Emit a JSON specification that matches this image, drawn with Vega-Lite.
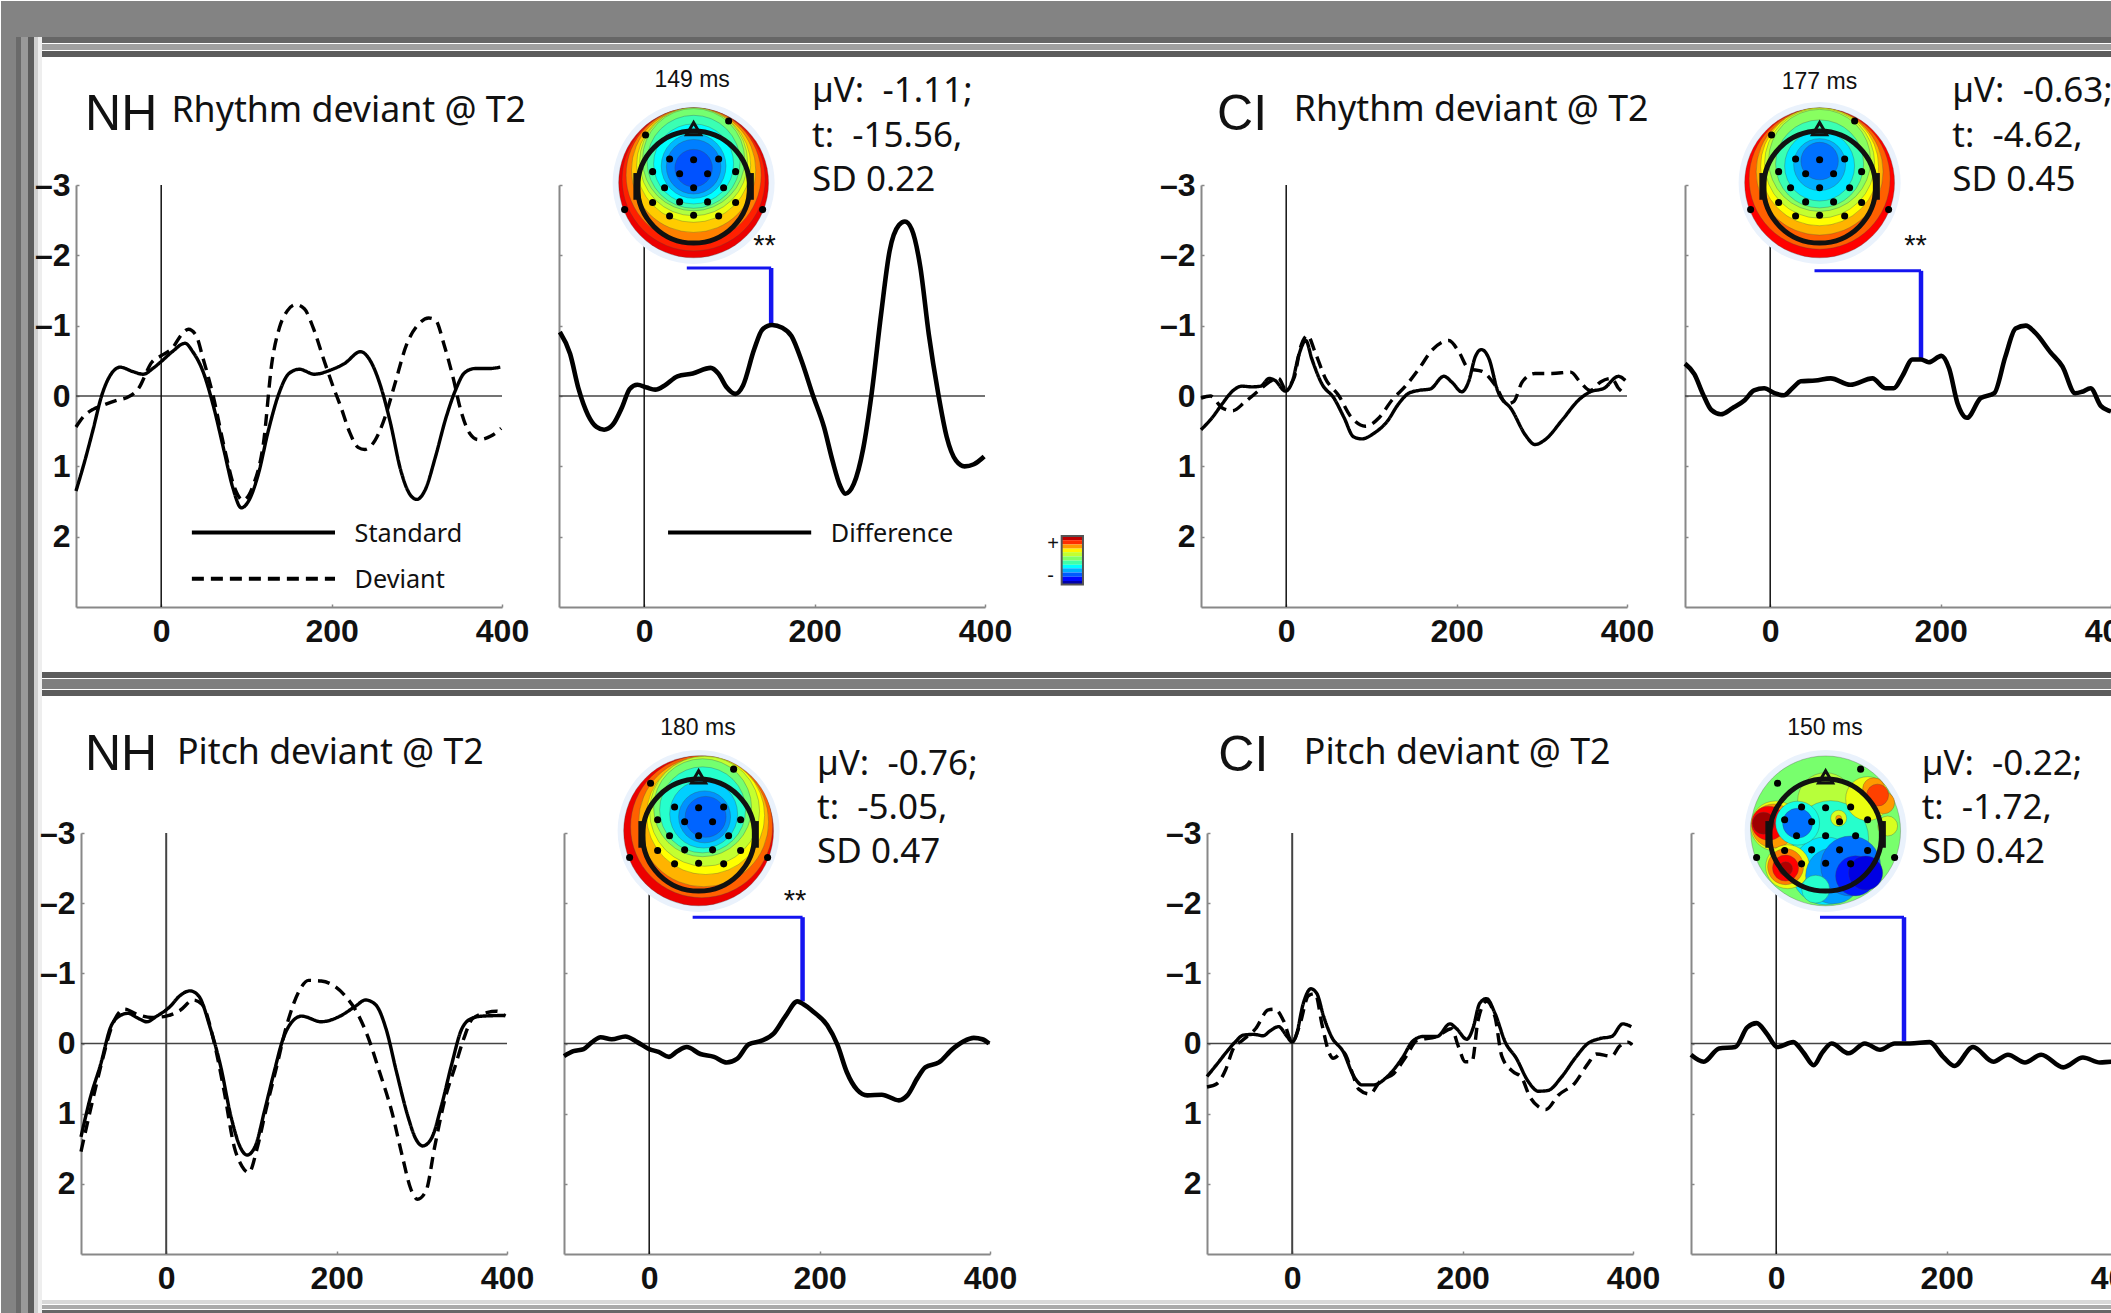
{"$schema":"https://vega.github.io/schema/vega-lite/v6.json","padding":0,"background":"#ffffff","spacing":0,"bounds":"flush",
"config":{"view":{"stroke":null},"concat":{"spacing":0},"axisX":{"labelPadding":12},"axisY":{"labelPadding":9},"axis":{"grid":false,"domainColor":"#888888","domainWidth":2,"tickColor":"#888888","tickWidth":1.5,"tickSize":-3,"labelFont":"Liberation Sans","labelFontSize":32,"labelFontWeight":"bold","labelColor":"#111111","labelOverlap":false,"labelBound":false,"labelFlush":false}},
"datasets":{
"one":[{"a":1}],
"hz":[{"t":-100,"t2":400,"v":0}],
"vt":[{"t":0,"v":-3,"v2":3}],
"halo":[{"t":58,"v":-3.03}],
"ring":[{"t":58,"v":-2.97}],
"nose":[{"t":58,"v":-3.8}],
"ears":[{"t":-8.6,"v":-3.17,"v2":-2.79},{"t":124.6,"v":-3.17,"v2":-2.79}],
"elec":[{"t":29.8,"v":-3.37},{"t":58,"v":-3.36},{"t":87.4,"v":-3.37},{"t":41.6,"v":-3.16},{"t":74.4,"v":-3.16},{"t":9.9,"v":-3.19},{"t":107.3,"v":-3.19},{"t":23.9,"v":-2.96},{"t":58,"v":-2.96},{"t":93.2,"v":-2.96},{"t":9.9,"v":-2.75},{"t":41.6,"v":-2.76},{"t":74.4,"v":-2.76},{"t":107.3,"v":-2.75},{"t":29.8,"v":-2.56},{"t":58,"v":-2.57},{"t":87.4,"v":-2.56},{"t":1.6,"v":-3.71},{"t":99.1,"v":-3.91},{"t":-23,"v":-2.65},{"t":139,"v":-2.65}],
"t1":[{"t":58,"v":-3.03,"level":0.88,"reach":88},{"t":58,"v":-3.08,"level":0.8,"reach":84},{"t":58,"v":-3.14,"level":0.65,"reach":79.3},{"t":58,"v":-3.21,"level":0.5,"reach":73},{"t":58,"v":-3.28,"level":0.35,"reach":67},{"t":58,"v":-3.33,"level":0.2,"reach":63.4},{"t":58,"v":-3.36,"level":0.05,"reach":60},{"t":58,"v":-3.33,"level":-0.1,"reach":54.6},{"t":58,"v":-3.3,"level":-0.25,"reach":47},{"t":58,"v":-3.27,"level":-0.4,"reach":38},{"t":58,"v":-3.26,"level":-0.52,"reach":32},{"t":58,"v":-3.24,"level":-0.62,"reach":22}],
"t2":[{"t":58,"v":-3.03,"level":0.85,"reach":88},{"t":58,"v":-3.09,"level":0.7,"reach":82.8},{"t":58,"v":-3.19,"level":0.55,"reach":74.5},{"t":58,"v":-3.26,"level":0.4,"reach":69.3},{"t":58,"v":-3.31,"level":0.25,"reach":64.6},{"t":58,"v":-3.35,"level":0.1,"reach":59.9},{"t":58,"v":-3.3,"level":-0.1,"reach":51.7},{"t":58,"v":-3.27,"level":-0.3,"reach":41.1},{"t":58,"v":-3.29,"level":-0.42,"reach":30.5},{"t":58,"v":-3.34,"level":-0.55,"reach":22}],
"t3":[{"t":58,"v":-3.03,"level":0.88,"reach":88},{"t":61.5,"v":-3.09,"level":0.7,"reach":83.4},{"t":63.9,"v":-3.16,"level":0.55,"reach":76.3},{"t":66.2,"v":-3.25,"level":0.4,"reach":69.3},{"t":65,"v":-3.31,"level":0.25,"reach":64.6},{"t":62.7,"v":-3.36,"level":0.05,"reach":57.5},{"t":62.7,"v":-3.33,"level":-0.15,"reach":50.5},{"t":63.9,"v":-3.27,"level":-0.35,"reach":39.9},{"t":65,"v":-3.23,"level":-0.48,"reach":30.5},{"t":66.2,"v":-3.23,"level":-0.58,"reach":24}],
"t4":[{"t":58,"v":-3.03,"level":0.06,"reach":88},{"t":58,"v":-3.46,"level":0.22,"reach":32.9},{"t":63.9,"v":-2.92,"level":-0.15,"reach":44.6},{"t":58,"v":-2.46,"level":-0.3,"reach":39.9},{"t":107.3,"v":-3.49,"level":0.35,"reach":25.8},{"t":114.4,"v":-3.63,"level":0.6,"reach":12.9},{"t":126.1,"v":-3.43,"level":0.6,"reach":12.9},{"t":119,"v":-3.54,"level":0.75,"reach":12.9},{"t":130.8,"v":-3.1,"level":0.3,"reach":11.7},{"t":-0.7,"v":-3.1,"level":0.35,"reach":29.4},{"t":-3,"v":-3.1,"level":0.6,"reach":25.8},{"t":-8.9,"v":-3.14,"level":0.85,"reach":20},{"t":-14.8,"v":-3.14,"level":1,"reach":12.9},{"t":13.4,"v":-2.52,"level":0.35,"reach":25.8},{"t":11,"v":-2.52,"level":0.65,"reach":21.1},{"t":11,"v":-2.5,"level":0.85,"reach":15.3},{"t":11,"v":-2.49,"level":0.97,"reach":8.2},{"t":67.4,"v":-2.39,"level":-0.45,"reach":32.9},{"t":87.4,"v":-2.53,"level":-0.55,"reach":35.2},{"t":93.2,"v":-2.39,"level":-0.75,"reach":23.5},{"t":105,"v":-2.43,"level":-0.85,"reach":20},{"t":46.3,"v":-2.2,"level":-0.15,"reach":16.4},{"t":25.1,"v":-3.14,"level":-0.2,"reach":25.8},{"t":25.1,"v":-3.14,"level":-0.55,"reach":17.6},{"t":73.3,"v":-3.21,"level":0.3,"reach":9.4},{"t":73.3,"v":-3.21,"level":0.6,"reach":3.5}],
"bar":[{"t":490,"t2":515,"v":1.99,"v2":2.05,"level":0.95},{"t":490,"t2":515,"v":2.05,"v2":2.11,"level":0.78},{"t":490,"t2":515,"v":2.11,"v2":2.17,"level":0.6},{"t":490,"t2":515,"v":2.17,"v2":2.22,"level":0.42},{"t":490,"t2":515,"v":2.22,"v2":2.28,"level":0.25},{"t":490,"t2":515,"v":2.28,"v2":2.34,"level":0.08},{"t":490,"t2":515,"v":2.34,"v2":2.4,"level":-0.08},{"t":490,"t2":515,"v":2.4,"v2":2.45,"level":-0.25},{"t":490,"t2":515,"v":2.45,"v2":2.51,"level":-0.42},{"t":490,"t2":515,"v":2.51,"v2":2.57,"level":-0.6},{"t":490,"t2":515,"v":2.57,"v2":2.63,"level":-0.78},{"t":490,"t2":515,"v":2.63,"v2":2.68,"level":-0.95}],
"barbox":[{"t":490,"t2":515,"v":1.99,"v2":2.68}],
"keys":[{"p":"P1","s":"Standard","t":36,"t2":204,"v":1.94},{"p":"P1","s":"Deviant","t":36,"t2":204,"v":2.6},{"p":"P2","s":"Standard","t":28,"t2":196,"v":1.94}],
"brackets":[{"p":"P2","t":50,"t2":149,"v":-1.82,"v2":-1.03},{"p":"P4","t":52,"t2":177,"v":-1.78,"v2":-0.51},{"p":"P6","t":51,"t2":180,"v":-1.8,"v2":-0.6},{"p":"P8","t":51.4,"t2":150,"v":-1.8,"v2":-0.03}],
"labels":[
{"p":"P1","kind":"big","font":"h","t":-89.4,"v":-3.78,"text":"NH"},
{"p":"P1","kind":"title","font":"n","t":12,"v":-3.9,"text":"Rhythm deviant @ T2"},
{"p":"P1","kind":"key","font":"n","t":227,"v":2.08,"text":"Standard"},
{"p":"P1","kind":"key","font":"n","t":227,"v":2.73,"text":"Deviant"},
{"p":"P2","kind":"ms","font":"h","t":12,"v":-4.39,"text":"149 ms"},
{"p":"P2","kind":"stat","font":"n","t":197,"v":-4.18,"text":"µV:\u00a0\u00a0-1.11;"},
{"p":"P2","kind":"stat","font":"n","t":197,"v":-3.54,"text":"t:\u00a0\u00a0-15.56,"},
{"p":"P2","kind":"stat","font":"n","t":197,"v":-2.91,"text":"SD 0.22"},
{"p":"P2","kind":"star","font":"h","t":128,"v":-2,"text":"**"},
{"p":"P2","kind":"key","font":"n","t":219,"v":2.08,"text":"Difference"},
{"p":"P2","kind":"cb","font":"h","t":473,"v":2.19,"text":"+"},
{"p":"P2","kind":"cb","font":"h","t":473,"v":2.65,"text":"-"},
{"p":"P3","kind":"big","font":"h","t":-81.2,"v":-3.78,"text":"CI"},
{"p":"P3","kind":"title","font":"n","t":9,"v":-3.91,"text":"Rhythm deviant @ T2"},
{"p":"P4","kind":"ms","font":"h","t":13.6,"v":-4.36,"text":"177 ms"},
{"p":"P4","kind":"stat","font":"n","t":213.7,"v":-4.18,"text":"µV:\u00a0\u00a0-0.63;"},
{"p":"P4","kind":"stat","font":"n","t":213.7,"v":-3.54,"text":"t:\u00a0\u00a0-4.62,"},
{"p":"P4","kind":"stat","font":"n","t":213.7,"v":-2.91,"text":"SD 0.45"},
{"p":"P4","kind":"star","font":"h","t":157.3,"v":-2,"text":"**"},
{"p":"P5","kind":"big","font":"h","t":-95.3,"v":-3.9,"text":"NH"},
{"p":"P5","kind":"title","font":"n","t":12.7,"v":-3.98,"text":"Pitch deviant @ T2"},
{"p":"P6","kind":"ms","font":"h","t":13,"v":-4.39,"text":"180 ms"},
{"p":"P6","kind":"stat","font":"n","t":197,"v":-3.82,"text":"µV:\u00a0\u00a0-0.76;"},
{"p":"P6","kind":"stat","font":"n","t":197,"v":-3.2,"text":"t:\u00a0\u00a0-5.05,"},
{"p":"P6","kind":"stat","font":"n","t":197,"v":-2.57,"text":"SD 0.47"},
{"p":"P6","kind":"star","font":"h","t":158,"v":-1.9,"text":"**"},
{"p":"P7","kind":"big","font":"h","t":-86.7,"v":-3.89,"text":"CI"},
{"p":"P7","kind":"title","font":"n","t":13.6,"v":-3.98,"text":"Pitch deviant @ T2"},
{"p":"P8","kind":"ms","font":"h","t":13,"v":-4.39,"text":"150 ms"},
{"p":"P8","kind":"stat","font":"n","t":170.7,"v":-3.82,"text":"µV:\u00a0\u00a0-0.22;"},
{"p":"P8","kind":"stat","font":"n","t":170.7,"v":-3.2,"text":"t:\u00a0\u00a0-1.72,"},
{"p":"P8","kind":"stat","font":"n","t":170.7,"v":-2.57,"text":"SD 0.42"}],
"p1":[{"s":"Deviant","t":-100,"v":0.44},{"s":"Deviant","t":-91,"v":0.29},{"s":"Deviant","t":-80,"v":0.19},{"s":"Deviant","t":-68,"v":0.13},{"s":"Deviant","t":-52,"v":0.06},{"s":"Deviant","t":-40,"v":0.02},{"s":"Deviant","t":-27,"v":-0.1},{"s":"Deviant","t":-11,"v":-0.48},{"s":"Deviant","t":1,"v":-0.58},{"s":"Deviant","t":13,"v":-0.68},{"s":"Deviant","t":25,"v":-0.89},{"s":"Deviant","t":32,"v":-0.95},{"s":"Deviant","t":41,"v":-0.86},{"s":"Deviant","t":49,"v":-0.54},{"s":"Deviant","t":61,"v":0},{"s":"Deviant","t":74,"v":0.73},{"s":"Deviant","t":86,"v":1.3},{"s":"Deviant","t":96,"v":1.48},{"s":"Deviant","t":108,"v":1.27},{"s":"Deviant","t":120,"v":0.67},{"s":"Deviant","t":130,"v":-0.48},{"s":"Deviant","t":139,"v":-0.98},{"s":"Deviant","t":148,"v":-1.21},{"s":"Deviant","t":158,"v":-1.3},{"s":"Deviant","t":168,"v":-1.24},{"s":"Deviant","t":179,"v":-0.95},{"s":"Deviant","t":191,"v":-0.51},{"s":"Deviant","t":201,"v":-0.16},{"s":"Deviant","t":211,"v":0.16},{"s":"Deviant","t":221,"v":0.51},{"s":"Deviant","t":231,"v":0.73},{"s":"Deviant","t":239,"v":0.76},{"s":"Deviant","t":251,"v":0.63},{"s":"Deviant","t":263,"v":0.29},{"s":"Deviant","t":274,"v":-0.16},{"s":"Deviant","t":288,"v":-0.73},{"s":"Deviant","t":302,"v":-1.02},{"s":"Deviant","t":314,"v":-1.11},{"s":"Deviant","t":322,"v":-1.08},{"s":"Deviant","t":332,"v":-0.73},{"s":"Deviant","t":342,"v":-0.29},{"s":"Deviant","t":352,"v":0.22},{"s":"Deviant","t":362,"v":0.53},{"s":"Deviant","t":372,"v":0.62},{"s":"Deviant","t":387,"v":0.57},{"s":"Deviant","t":399,"v":0.46},
{"s":"Standard","t":-100,"v":1.35},{"s":"Standard","t":-91,"v":0.98},{"s":"Standard","t":-80,"v":0.48},{"s":"Standard","t":-70,"v":0},{"s":"Standard","t":-60,"v":-0.29},{"s":"Standard","t":-48,"v":-0.41},{"s":"Standard","t":-34,"v":-0.35},{"s":"Standard","t":-21,"v":-0.31},{"s":"Standard","t":-9,"v":-0.4},{"s":"Standard","t":0,"v":-0.49},{"s":"Standard","t":13,"v":-0.63},{"s":"Standard","t":28,"v":-0.75},{"s":"Standard","t":37,"v":-0.63},{"s":"Standard","t":49,"v":-0.35},{"s":"Standard","t":61,"v":0.13},{"s":"Standard","t":74,"v":0.79},{"s":"Standard","t":84,"v":1.3},{"s":"Standard","t":94,"v":1.59},{"s":"Standard","t":104,"v":1.46},{"s":"Standard","t":114,"v":1.11},{"s":"Standard","t":126,"v":0.48},{"s":"Standard","t":138,"v":-0.03},{"s":"Standard","t":150,"v":-0.32},{"s":"Standard","t":162,"v":-0.38},{"s":"Standard","t":180,"v":-0.31},{"s":"Standard","t":199,"v":-0.37},{"s":"Standard","t":215,"v":-0.46},{"s":"Standard","t":234,"v":-0.63},{"s":"Standard","t":245,"v":-0.51},{"s":"Standard","t":257,"v":-0.16},{"s":"Standard","t":269,"v":0.38},{"s":"Standard","t":281,"v":1.05},{"s":"Standard","t":292,"v":1.4},{"s":"Standard","t":300,"v":1.47},{"s":"Standard","t":310,"v":1.33},{"s":"Standard","t":322,"v":0.86},{"s":"Standard","t":334,"v":0.32},{"s":"Standard","t":346,"v":-0.1},{"s":"Standard","t":356,"v":-0.33},{"s":"Standard","t":368,"v":-0.39},{"s":"Standard","t":384,"v":-0.39},{"s":"Standard","t":398,"v":-0.41}],
"p2":[{"t":-99,"v":-0.91},{"t":-87,"v":-0.6},{"t":-77,"v":-0.1},{"t":-66,"v":0.27},{"t":-56,"v":0.44},{"t":-47,"v":0.48},{"t":-37,"v":0.41},{"t":-26,"v":0.16},{"t":-17,"v":-0.1},{"t":-8,"v":-0.16},{"t":3,"v":-0.12},{"t":13,"v":-0.09},{"t":24,"v":-0.15},{"t":39,"v":-0.28},{"t":57,"v":-0.32},{"t":78,"v":-0.4},{"t":87,"v":-0.32},{"t":97,"v":-0.12},{"t":107,"v":-0.03},{"t":116,"v":-0.15},{"t":129,"v":-0.66},{"t":139,"v":-0.95},{"t":150,"v":-1.01},{"t":162,"v":-0.97},{"t":173,"v":-0.85},{"t":185,"v":-0.49},{"t":198,"v":-0.01},{"t":211,"v":0.44},{"t":221,"v":0.92},{"t":230,"v":1.28},{"t":236,"v":1.39},{"t":246,"v":1.25},{"t":257,"v":0.75},{"t":267,"v":-0.04},{"t":278,"v":-1.16},{"t":288,"v":-2.06},{"t":299,"v":-2.43},{"t":306,"v":-2.48},{"t":314,"v":-2.37},{"t":324,"v":-1.84},{"t":334,"v":-0.88},{"t":345,"v":-0.04},{"t":355,"v":0.58},{"t":366,"v":0.92},{"t":376,"v":1},{"t":387,"v":0.97},{"t":399,"v":0.86}],
"p3":[{"s":"Deviant","t":-100,"v":0.03},{"s":"Deviant","t":-89,"v":0},{"s":"Deviant","t":-75,"v":0.17},{"s":"Deviant","t":-63,"v":0.21},{"s":"Deviant","t":-48,"v":0.08},{"s":"Deviant","t":-32,"v":-0.08},{"s":"Deviant","t":-20,"v":-0.2},{"s":"Deviant","t":-9,"v":-0.25},{"s":"Deviant","t":-1,"v":-0.11},{"s":"Deviant","t":9,"v":-0.25},{"s":"Deviant","t":17,"v":-0.7},{"s":"Deviant","t":25,"v":-0.86},{"s":"Deviant","t":34,"v":-0.62},{"s":"Deviant","t":46,"v":-0.25},{"s":"Deviant","t":62,"v":0},{"s":"Deviant","t":75,"v":0.28},{"s":"Deviant","t":93,"v":0.43},{"s":"Deviant","t":109,"v":0.31},{"s":"Deviant","t":124,"v":0.06},{"s":"Deviant","t":140,"v":-0.14},{"s":"Deviant","t":156,"v":-0.39},{"s":"Deviant","t":171,"v":-0.65},{"s":"Deviant","t":191,"v":-0.79},{"s":"Deviant","t":203,"v":-0.62},{"s":"Deviant","t":214,"v":-0.39},{"s":"Deviant","t":230,"v":-0.35},{"s":"Deviant","t":246,"v":-0.14},{"s":"Deviant","t":259,"v":0.11},{"s":"Deviant","t":267,"v":0.08},{"s":"Deviant","t":277,"v":-0.2},{"s":"Deviant","t":292,"v":-0.32},{"s":"Deviant","t":312,"v":-0.32},{"s":"Deviant","t":334,"v":-0.34},{"s":"Deviant","t":345,"v":-0.2},{"s":"Deviant","t":357,"v":-0.08},{"s":"Deviant","t":369,"v":-0.2},{"s":"Deviant","t":382,"v":-0.25},{"s":"Deviant","t":390,"v":-0.11},{"s":"Deviant","t":398,"v":-0.02},
{"s":"Standard","t":-100,"v":0.48},{"s":"Standard","t":-87,"v":0.31},{"s":"Standard","t":-75,"v":0.11},{"s":"Standard","t":-63,"v":-0.07},{"s":"Standard","t":-52,"v":-0.14},{"s":"Standard","t":-40,"v":-0.13},{"s":"Standard","t":-30,"v":-0.14},{"s":"Standard","t":-20,"v":-0.25},{"s":"Standard","t":-13,"v":-0.22},{"s":"Standard","t":-1,"v":-0.07},{"s":"Standard","t":7,"v":-0.2},{"s":"Standard","t":15,"v":-0.59},{"s":"Standard","t":23,"v":-0.79},{"s":"Standard","t":30,"v":-0.53},{"s":"Standard","t":42,"v":-0.17},{"s":"Standard","t":56,"v":0.03},{"s":"Standard","t":68,"v":0.31},{"s":"Standard","t":79,"v":0.58},{"s":"Standard","t":89,"v":0.61},{"s":"Standard","t":103,"v":0.53},{"s":"Standard","t":118,"v":0.37},{"s":"Standard","t":132,"v":0.11},{"s":"Standard","t":144,"v":-0.04},{"s":"Standard","t":156,"v":-0.08},{"s":"Standard","t":169,"v":-0.1},{"s":"Standard","t":185,"v":-0.28},{"s":"Standard","t":195,"v":-0.19},{"s":"Standard","t":206,"v":-0.06},{"s":"Standard","t":214,"v":-0.2},{"s":"Standard","t":222,"v":-0.56},{"s":"Standard","t":229,"v":-0.66},{"s":"Standard","t":238,"v":-0.53},{"s":"Standard","t":248,"v":-0.08},{"s":"Standard","t":265,"v":0.2},{"s":"Standard","t":281,"v":0.56},{"s":"Standard","t":292,"v":0.69},{"s":"Standard","t":304,"v":0.62},{"s":"Standard","t":324,"v":0.34},{"s":"Standard","t":343,"v":0.06},{"s":"Standard","t":357,"v":-0.06},{"s":"Standard","t":373,"v":-0.11},{"s":"Standard","t":390,"v":-0.28},{"s":"Standard","t":398,"v":-0.22}],
"p4":[{"t":-100,"v":-0.46},{"t":-89,"v":-0.31},{"t":-79,"v":-0.03},{"t":-69,"v":0.2},{"t":-58,"v":0.26},{"t":-44,"v":0.17},{"t":-30,"v":0.06},{"t":-19,"v":-0.08},{"t":-7,"v":-0.11},{"t":5,"v":-0.04},{"t":16,"v":-0.01},{"t":26,"v":-0.11},{"t":36,"v":-0.21},{"t":53,"v":-0.22},{"t":71,"v":-0.25},{"t":94,"v":-0.16},{"t":120,"v":-0.25},{"t":135,"v":-0.11},{"t":145,"v":-0.11},{"t":155,"v":-0.28},{"t":167,"v":-0.52},{"t":177,"v":-0.52},{"t":186,"v":-0.48},{"t":201,"v":-0.57},{"t":210,"v":-0.39},{"t":220,"v":0.11},{"t":231,"v":0.31},{"t":247,"v":0.03},{"t":263,"v":-0.04},{"t":276,"v":-0.56},{"t":288,"v":-0.96},{"t":300,"v":-1},{"t":311,"v":-0.9},{"t":329,"v":-0.62},{"t":343,"v":-0.42},{"t":358,"v":-0.04},{"t":366,"v":-0.06},{"t":376,"v":-0.11},{"t":388,"v":0.14},{"t":398,"v":0.21},{"t":400,"v":0.22}],
"p5":[{"s":"Deviant","t":-100,"v":1.54},{"s":"Deviant","t":-89,"v":0.95},{"s":"Deviant","t":-75,"v":0.24},{"s":"Deviant","t":-63,"v":-0.27},{"s":"Deviant","t":-49,"v":-0.49},{"s":"Deviant","t":-33,"v":-0.41},{"s":"Deviant","t":-17,"v":-0.37},{"s":"Deviant","t":0,"v":-0.39},{"s":"Deviant","t":16,"v":-0.47},{"s":"Deviant","t":32,"v":-0.62},{"s":"Deviant","t":42,"v":-0.56},{"s":"Deviant","t":56,"v":-0.03},{"s":"Deviant","t":68,"v":0.68},{"s":"Deviant","t":80,"v":1.48},{"s":"Deviant","t":89,"v":1.75},{"s":"Deviant","t":97,"v":1.84},{"s":"Deviant","t":107,"v":1.48},{"s":"Deviant","t":117,"v":0.95},{"s":"Deviant","t":129,"v":0.36},{"s":"Deviant","t":141,"v":-0.24},{"s":"Deviant","t":157,"v":-0.77},{"s":"Deviant","t":167,"v":-0.9},{"s":"Deviant","t":182,"v":-0.89},{"s":"Deviant","t":210,"v":-0.68},{"s":"Deviant","t":224,"v":-0.44},{"s":"Deviant","t":236,"v":-0.12},{"s":"Deviant","t":250,"v":0.39},{"s":"Deviant","t":265,"v":0.98},{"s":"Deviant","t":277,"v":1.6},{"s":"Deviant","t":287,"v":2.07},{"s":"Deviant","t":295,"v":2.22},{"s":"Deviant","t":305,"v":2.1},{"s":"Deviant","t":315,"v":1.48},{"s":"Deviant","t":327,"v":0.8},{"s":"Deviant","t":339,"v":0.33},{"s":"Deviant","t":349,"v":-0.06},{"s":"Deviant","t":360,"v":-0.36},{"s":"Deviant","t":376,"v":-0.44},{"s":"Deviant","t":388,"v":-0.46},{"s":"Deviant","t":398,"v":-0.39},
{"s":"Standard","t":-100,"v":1.33},{"s":"Standard","t":-89,"v":0.77},{"s":"Standard","t":-77,"v":0.3},{"s":"Standard","t":-65,"v":-0.24},{"s":"Standard","t":-55,"v":-0.39},{"s":"Standard","t":-45,"v":-0.43},{"s":"Standard","t":-33,"v":-0.36},{"s":"Standard","t":-23,"v":-0.31},{"s":"Standard","t":-11,"v":-0.39},{"s":"Standard","t":4,"v":-0.52},{"s":"Standard","t":16,"v":-0.68},{"s":"Standard","t":28,"v":-0.75},{"s":"Standard","t":38,"v":-0.68},{"s":"Standard","t":52,"v":-0.21},{"s":"Standard","t":64,"v":0.33},{"s":"Standard","t":76,"v":1.04},{"s":"Standard","t":87,"v":1.48},{"s":"Standard","t":95,"v":1.59},{"s":"Standard","t":105,"v":1.45},{"s":"Standard","t":115,"v":0.98},{"s":"Standard","t":127,"v":0.39},{"s":"Standard","t":137,"v":-0.06},{"s":"Standard","t":147,"v":-0.3},{"s":"Standard","t":159,"v":-0.39},{"s":"Standard","t":182,"v":-0.31},{"s":"Standard","t":204,"v":-0.39},{"s":"Standard","t":222,"v":-0.53},{"s":"Standard","t":234,"v":-0.62},{"s":"Standard","t":246,"v":-0.55},{"s":"Standard","t":258,"v":-0.21},{"s":"Standard","t":270,"v":0.39},{"s":"Standard","t":283,"v":1.01},{"s":"Standard","t":293,"v":1.36},{"s":"Standard","t":301,"v":1.46},{"s":"Standard","t":311,"v":1.36},{"s":"Standard","t":323,"v":0.89},{"s":"Standard","t":335,"v":0.3},{"s":"Standard","t":347,"v":-0.21},{"s":"Standard","t":359,"v":-0.36},{"s":"Standard","t":371,"v":-0.39},{"s":"Standard","t":398,"v":-0.4}],
"p6":[{"t":-100,"v":0.18},{"t":-89,"v":0.11},{"t":-77,"v":0.08},{"t":-67,"v":-0.02},{"t":-57,"v":-0.09},{"t":-44,"v":-0.06},{"t":-28,"v":-0.1},{"t":-14,"v":-0.02},{"t":0,"v":0.08},{"t":11,"v":0.12},{"t":23,"v":0.19},{"t":33,"v":0.11},{"t":44,"v":0.05},{"t":60,"v":0.15},{"t":76,"v":0.19},{"t":91,"v":0.27},{"t":103,"v":0.22},{"t":117,"v":0.01},{"t":132,"v":-0.04},{"t":146,"v":-0.14},{"t":160,"v":-0.39},{"t":174,"v":-0.6},{"t":181,"v":-0.56},{"t":193,"v":-0.45},{"t":209,"v":-0.26},{"t":221,"v":0.02},{"t":232,"v":0.41},{"t":244,"v":0.66},{"t":256,"v":0.74},{"t":273,"v":0.73},{"t":293,"v":0.81},{"t":303,"v":0.74},{"t":315,"v":0.49},{"t":324,"v":0.34},{"t":340,"v":0.27},{"t":356,"v":0.08},{"t":369,"v":-0.03},{"t":381,"v":-0.08},{"t":391,"v":-0.06},{"t":399,"v":0}],
"p7":[{"s":"Deviant","t":-100,"v":0.62},{"s":"Deviant","t":-88,"v":0.57},{"s":"Deviant","t":-78,"v":0.37},{"s":"Deviant","t":-69,"v":0.07},{"s":"Deviant","t":-59,"v":-0.04},{"s":"Deviant","t":-43,"v":-0.21},{"s":"Deviant","t":-28,"v":-0.48},{"s":"Deviant","t":-20,"v":-0.49},{"s":"Deviant","t":-10,"v":-0.32},{"s":"Deviant","t":0,"v":-0.02},{"s":"Deviant","t":9,"v":-0.27},{"s":"Deviant","t":19,"v":-0.68},{"s":"Deviant","t":27,"v":-0.71},{"s":"Deviant","t":35,"v":-0.27},{"s":"Deviant","t":43,"v":0.12},{"s":"Deviant","t":48,"v":0.21},{"s":"Deviant","t":60,"v":0.12},{"s":"Deviant","t":70,"v":0.4},{"s":"Deviant","t":78,"v":0.65},{"s":"Deviant","t":91,"v":0.72},{"s":"Deviant","t":103,"v":0.54},{"s":"Deviant","t":119,"v":0.43},{"s":"Deviant","t":134,"v":0.18},{"s":"Deviant","t":146,"v":-0.04},{"s":"Deviant","t":170,"v":-0.1},{"s":"Deviant","t":187,"v":-0.21},{"s":"Deviant","t":195,"v":0.04},{"s":"Deviant","t":203,"v":0.26},{"s":"Deviant","t":211,"v":0.26},{"s":"Deviant","t":218,"v":-0.32},{"s":"Deviant","t":228,"v":-0.6},{"s":"Deviant","t":238,"v":-0.38},{"s":"Deviant","t":246,"v":0.18},{"s":"Deviant","t":259,"v":0.4},{"s":"Deviant","t":269,"v":0.48},{"s":"Deviant","t":279,"v":0.76},{"s":"Deviant","t":289,"v":0.9},{"s":"Deviant","t":298,"v":0.94},{"s":"Deviant","t":312,"v":0.74},{"s":"Deviant","t":332,"v":0.56},{"s":"Deviant","t":347,"v":0.29},{"s":"Deviant","t":357,"v":0.15},{"s":"Deviant","t":375,"v":0.18},{"s":"Deviant","t":384,"v":0.04},{"s":"Deviant","t":394,"v":-0.02},{"s":"Deviant","t":399,"v":0.02},
{"s":"Standard","t":-100,"v":0.47},{"s":"Standard","t":-88,"v":0.29},{"s":"Standard","t":-77,"v":0.12},{"s":"Standard","t":-67,"v":-0.02},{"s":"Standard","t":-57,"v":-0.12},{"s":"Standard","t":-45,"v":-0.13},{"s":"Standard","t":-34,"v":-0.11},{"s":"Standard","t":-26,"v":-0.18},{"s":"Standard","t":-16,"v":-0.24},{"s":"Standard","t":-6,"v":-0.1},{"s":"Standard","t":0,"v":-0.02},{"s":"Standard","t":5,"v":-0.13},{"s":"Standard","t":13,"v":-0.57},{"s":"Standard","t":22,"v":-0.78},{"s":"Standard","t":29,"v":-0.71},{"s":"Standard","t":37,"v":-0.38},{"s":"Standard","t":46,"v":-0.1},{"s":"Standard","t":60,"v":0.12},{"s":"Standard","t":72,"v":0.46},{"s":"Standard","t":82,"v":0.59},{"s":"Standard","t":95,"v":0.59},{"s":"Standard","t":115,"v":0.43},{"s":"Standard","t":129,"v":0.21},{"s":"Standard","t":142,"v":-0.04},{"s":"Standard","t":154,"v":-0.1},{"s":"Standard","t":170,"v":-0.1},{"s":"Standard","t":185,"v":-0.28},{"s":"Standard","t":193,"v":-0.21},{"s":"Standard","t":205,"v":-0.06},{"s":"Standard","t":212,"v":-0.21},{"s":"Standard","t":220,"v":-0.57},{"s":"Standard","t":228,"v":-0.64},{"s":"Standard","t":238,"v":-0.43},{"s":"Standard","t":250,"v":-0.02},{"s":"Standard","t":263,"v":0.21},{"s":"Standard","t":277,"v":0.54},{"s":"Standard","t":289,"v":0.68},{"s":"Standard","t":300,"v":0.67},{"s":"Standard","t":316,"v":0.48},{"s":"Standard","t":332,"v":0.21},{"s":"Standard","t":347,"v":0},{"s":"Standard","t":361,"v":-0.07},{"s":"Standard","t":375,"v":-0.1},{"s":"Standard","t":388,"v":-0.28},{"s":"Standard","t":398,"v":-0.24}],
"p8":[{"t":-100,"v":0.16},{"t":-85,"v":0.26},{"t":-67,"v":0.07},{"t":-48,"v":0.05},{"t":-34,"v":-0.23},{"t":-23,"v":-0.29},{"t":-11,"v":-0.14},{"t":1,"v":0.05},{"t":20,"v":-0.02},{"t":32,"v":0.13},{"t":44,"v":0.31},{"t":54,"v":0.13},{"t":65,"v":0},{"t":85,"v":0.14},{"t":104,"v":0},{"t":122,"v":0.09},{"t":139,"v":0},{"t":157,"v":0},{"t":180,"v":-0.02},{"t":196,"v":0.19},{"t":209,"v":0.32},{"t":231,"v":0.05},{"t":255,"v":0.26},{"t":272,"v":0.16},{"t":292,"v":0.27},{"t":311,"v":0.16},{"t":337,"v":0.34},{"t":360,"v":0.2},{"t":380,"v":0.27},{"t":393,"v":0.26},{"t":400,"v":0.26}]
},
"vconcat":[
{"width":2111,"height":36,"view":{"fill":"#838383"},"data":{"name":"one"},"mark":{"type":"rule","opacity":0},"encoding":{}},
{"spacing":0,"bounds":"flush","hconcat":[
{"width":15,"height":1277,"view":{"fill":"#838383"},"data":{"name":"one"},"mark":{"type":"rule","opacity":0},"encoding":{}},
{"width":5,"height":1277,"view":{"fill":"#6a6a6a"},"data":{"name":"one"},"mark":{"type":"rule","opacity":0},"encoding":{}},
{"width":7,"height":1277,"view":{"fill":"#999999"},"data":{"name":"one"},"mark":{"type":"rule","opacity":0},"encoding":{}},
{"width":6,"height":1277,"view":{"fill":"#5c5c5c"},"data":{"name":"one"},"mark":{"type":"rule","opacity":0},"encoding":{}},
{"width":4,"height":1277,"view":{"fill":"#cfcfcf"},"data":{"name":"one"},"mark":{"type":"rule","opacity":0},"encoding":{}},
{"width":4,"height":1277,"view":{"fill":"#eeeeee"},"data":{"name":"one"},"mark":{"type":"rule","opacity":0},"encoding":{}},
{"spacing":0,"vconcat":[
{"width":2070,"height":6,"view":{"fill":"#666666"},"data":{"name":"one"},"mark":{"type":"rule","opacity":0},"encoding":{}},
{"width":2070,"height":6,"view":{"fill":"#a0a0a0"},"data":{"name":"one"},"mark":{"type":"rule","opacity":0},"encoding":{}},
{"width":2070,"height":6,"view":{"fill":"#5c5c5c"},"data":{"name":"one"},"mark":{"type":"rule","opacity":0},"encoding":{}},
{"width":2070,"height":11,"data":{"name":"one"},"mark":{"type":"rule","opacity":0},"encoding":{}},
{"spacing":0,"bounds":"flush","hconcat":[
{"width":34,"height":422,"data":{"name":"one"},"mark":{"type":"rule","opacity":0},"encoding":{}},
{"width":426,"height":422,"encoding":{"x":{"field":"t","type":"quantitative","title":null,"scale":{"domain":[-100,400]},"axis":{"values":[0,200,400]}},"y":{"field":"v","type":"quantitative","title":null,"scale":{"domain":[3,-3]},"axis":{"values":[-3,-2,-1,0,1,2],"labelExpr":"datum.value<0 ? '–'+(-datum.value) : ''+datum.value"}}},
"layer":[
{"data":{"name":"hz"},"mark":{"type":"rule","color":"#444444","strokeWidth":1.5},"encoding":{"x2":{"field":"t2"}}},
{"data":{"name":"vt"},"mark":{"type":"rule","color":"#111111","strokeWidth":1.5},"encoding":{"y2":{"field":"v2"}}},
{"data":{"name":"p1"},"mark":{"type":"line","color":"#000000","strokeWidth":3.4,"interpolate":"monotone"},"encoding":{"strokeDash":{"field":"s","scale":{"domain":["Standard","Deviant"],"range":[[1,0],[12,7]]},"legend":null}}},
{"data":{"name":"keys"},"transform":[{"filter":"datum.p=='P1'"}],"mark":{"type":"rule","color":"#000000","strokeWidth":4},"encoding":{"x2":{"field":"t2"},"strokeDash":{"field":"s","scale":{"domain":["Standard","Deviant"],"range":[[1,0],[12,7]]},"legend":null}}},
{"data":{"name":"labels"},"transform":[{"filter":"datum.p=='P1' && datum.font=='n'"}],"mark":{"type":"text","align":"left","baseline":"alphabetic","font":"Noto Sans","color":"#111111"},"encoding":{"text":{"field":"text"},"size":{"field":"kind","type":"nominal","legend":null,"scale":{"type":"ordinal","domain":["title","stat","key","big","ms","star","cb"],"range":[35.7,35,25.2,50,23,29,20]}}}},
{"data":{"name":"labels"},"transform":[{"filter":"datum.p=='P1' && datum.font=='h'"}],"mark":{"type":"text","align":"left","baseline":"alphabetic","font":"Liberation Sans","color":"#111111"},"encoding":{"text":{"field":"text"},"size":{"field":"kind","type":"nominal","legend":null,"scale":{"type":"ordinal","domain":["title","stat","key","big","ms","star","cb"],"range":[35.7,35,25.2,50,23,29,20]}}}}
]},
{"width":57,"height":422,"data":{"name":"one"},"mark":{"type":"rule","opacity":0},"encoding":{}},
{"width":426,"height":422,"encoding":{"x":{"field":"t","type":"quantitative","title":null,"scale":{"domain":[-100,400]},"axis":{"values":[0,200,400]}},"y":{"field":"v","type":"quantitative","title":null,"scale":{"domain":[3,-3]},"axis":{"values":[-3,-2,-1,0,1,2],"labels":false}}},
"layer":[
{"data":{"name":"hz"},"mark":{"type":"rule","color":"#444444","strokeWidth":1.5},"encoding":{"x2":{"field":"t2"}}},
{"data":{"name":"vt"},"mark":{"type":"rule","color":"#111111","strokeWidth":1.5},"encoding":{"y2":{"field":"v2"}}},
{"data":{"name":"halo"},"mark":{"type":"point","filled":true,"opacity":1,"color":"#eaf2fc","size":26244},"encoding":{}},
{"data":{"name":"t1"},"mark":{"type":"point","filled":true,"opacity":1,"stroke":"#444444","strokeWidth":0.6,"strokeOpacity":0.5},"encoding":{"fill":{"field":"level","type":"quantitative","legend":null,"scale":{"interpolate":"rgb","domain":[-1,-0.8,-0.5,-0.25,0,0.4,0.65,0.85,1],"range":["#00008f","#0000ff","#0088ff","#00ffff","#60ff80","#ffff00","#ff8000","#ff0000","#a00000"]}},"size":{"field":"reach","type":"quantitative","legend":null,"scale":{"type":"pow","exponent":2,"domain":[0,100],"range":[0,29002]}}}},
{"data":{"name":"ears"},"mark":{"type":"rule","color":"#111111","strokeWidth":7},"encoding":{"y2":{"field":"v2"}}},
{"data":{"name":"ring"},"mark":{"type":"point","filled":false,"opacity":1,"color":"#111111","strokeWidth":5,"size":12544},"encoding":{}},
{"data":{"name":"nose"},"mark":{"type":"point","shape":"triangle-up","filled":false,"opacity":1,"color":"#111111","strokeWidth":3,"size":200},"encoding":{}},
{"data":{"name":"elec"},"mark":{"type":"point","filled":true,"opacity":1,"color":"#000000","size":50},"encoding":{}},
{"data":{"name":"brackets"},"transform":[{"filter":"datum.p=='P2'"}],"mark":{"type":"rule","color":"#1414f0","strokeWidth":3},"encoding":{"x2":{"field":"t2"}}},
{"data":{"name":"brackets"},"transform":[{"filter":"datum.p=='P2'"}],"mark":{"type":"rule","color":"#1414f0","strokeWidth":4.5},"encoding":{"x":{"field":"t2","type":"quantitative"},"y2":{"field":"v2"}}},
{"data":{"name":"p2"},"mark":{"type":"line","color":"#000000","strokeWidth":4.6,"interpolate":"monotone"}},
{"data":{"name":"keys"},"transform":[{"filter":"datum.p=='P2'"}],"mark":{"type":"rule","color":"#000000","strokeWidth":4},"encoding":{"x2":{"field":"t2"}}},
{"data":{"name":"bar"},"mark":{"type":"rect"},"encoding":{"x2":{"field":"t2"},"y2":{"field":"v2"},"fill":{"field":"level","type":"quantitative","legend":null,"scale":{"interpolate":"rgb","domain":[-1,-0.8,-0.5,-0.25,0,0.4,0.65,0.85,1],"range":["#00008f","#0000ff","#0088ff","#00ffff","#60ff80","#ffff00","#ff8000","#ff0000","#a00000"]}}}},
{"data":{"name":"barbox"},"mark":{"type":"rect","fillOpacity":0,"stroke":"#555555","strokeWidth":2},"encoding":{"x2":{"field":"t2"},"y2":{"field":"v2"}}},
{"data":{"name":"labels"},"transform":[{"filter":"datum.p=='P2' && datum.font=='n'"}],"mark":{"type":"text","align":"left","baseline":"alphabetic","font":"Noto Sans","color":"#111111"},"encoding":{"text":{"field":"text"},"size":{"field":"kind","type":"nominal","legend":null,"scale":{"type":"ordinal","domain":["title","stat","key","big","ms","star","cb"],"range":[35.7,35,25.2,50,23,29,20]}}}},
{"data":{"name":"labels"},"transform":[{"filter":"datum.p=='P2' && datum.font=='h'"}],"mark":{"type":"text","align":"left","baseline":"alphabetic","font":"Liberation Sans","color":"#111111"},"encoding":{"text":{"field":"text"},"size":{"field":"kind","type":"nominal","legend":null,"scale":{"type":"ordinal","domain":["title","stat","key","big","ms","star","cb"],"range":[35.7,35,25.2,50,23,29,20]}}}}
]},
{"width":216,"height":422,"data":{"name":"one"},"mark":{"type":"rule","opacity":0},"encoding":{}},
{"width":426,"height":422,"encoding":{"x":{"field":"t","type":"quantitative","title":null,"scale":{"domain":[-100,400]},"axis":{"values":[0,200,400]}},"y":{"field":"v","type":"quantitative","title":null,"scale":{"domain":[3,-3]},"axis":{"values":[-3,-2,-1,0,1,2],"labelExpr":"datum.value<0 ? '–'+(-datum.value) : ''+datum.value"}}},
"layer":[
{"data":{"name":"hz"},"mark":{"type":"rule","color":"#444444","strokeWidth":1.5},"encoding":{"x2":{"field":"t2"}}},
{"data":{"name":"vt"},"mark":{"type":"rule","color":"#111111","strokeWidth":1.5},"encoding":{"y2":{"field":"v2"}}},
{"data":{"name":"p3"},"mark":{"type":"line","color":"#000000","strokeWidth":3.4,"interpolate":"monotone"},"encoding":{"strokeDash":{"field":"s","scale":{"domain":["Standard","Deviant"],"range":[[1,0],[12,7]]},"legend":null}}},
{"data":{"name":"labels"},"transform":[{"filter":"datum.p=='P3' && datum.font=='n'"}],"mark":{"type":"text","align":"left","baseline":"alphabetic","font":"Noto Sans","color":"#111111"},"encoding":{"text":{"field":"text"},"size":{"field":"kind","type":"nominal","legend":null,"scale":{"type":"ordinal","domain":["title","stat","key","big","ms","star","cb"],"range":[35.7,35,25.2,50,23,29,20]}}}},
{"data":{"name":"labels"},"transform":[{"filter":"datum.p=='P3' && datum.font=='h'"}],"mark":{"type":"text","align":"left","baseline":"alphabetic","font":"Liberation Sans","color":"#111111"},"encoding":{"text":{"field":"text"},"size":{"field":"kind","type":"nominal","legend":null,"scale":{"type":"ordinal","domain":["title","stat","key","big","ms","star","cb"],"range":[35.7,35,25.2,50,23,29,20]}}}}
]},
{"width":58,"height":422,"data":{"name":"one"},"mark":{"type":"rule","opacity":0},"encoding":{}},
{"width":426,"height":422,"encoding":{"x":{"field":"t","type":"quantitative","title":null,"scale":{"domain":[-100,400]},"axis":{"values":[0,200,400]}},"y":{"field":"v","type":"quantitative","title":null,"scale":{"domain":[3,-3]},"axis":{"values":[-3,-2,-1,0,1,2],"labels":false}}},
"layer":[
{"data":{"name":"hz"},"mark":{"type":"rule","color":"#444444","strokeWidth":1.5},"encoding":{"x2":{"field":"t2"}}},
{"data":{"name":"vt"},"mark":{"type":"rule","color":"#111111","strokeWidth":1.5},"encoding":{"y2":{"field":"v2"}}},
{"data":{"name":"halo"},"mark":{"type":"point","filled":true,"opacity":1,"color":"#eaf2fc","size":26244},"encoding":{}},
{"data":{"name":"t2"},"mark":{"type":"point","filled":true,"opacity":1,"stroke":"#444444","strokeWidth":0.6,"strokeOpacity":0.5},"encoding":{"fill":{"field":"level","type":"quantitative","legend":null,"scale":{"interpolate":"rgb","domain":[-1,-0.8,-0.5,-0.25,0,0.4,0.65,0.85,1],"range":["#00008f","#0000ff","#0088ff","#00ffff","#60ff80","#ffff00","#ff8000","#ff0000","#a00000"]}},"size":{"field":"reach","type":"quantitative","legend":null,"scale":{"type":"pow","exponent":2,"domain":[0,100],"range":[0,29002]}}}},
{"data":{"name":"ears"},"mark":{"type":"rule","color":"#111111","strokeWidth":7},"encoding":{"y2":{"field":"v2"}}},
{"data":{"name":"ring"},"mark":{"type":"point","filled":false,"opacity":1,"color":"#111111","strokeWidth":5,"size":12544},"encoding":{}},
{"data":{"name":"nose"},"mark":{"type":"point","shape":"triangle-up","filled":false,"opacity":1,"color":"#111111","strokeWidth":3,"size":200},"encoding":{}},
{"data":{"name":"elec"},"mark":{"type":"point","filled":true,"opacity":1,"color":"#000000","size":50},"encoding":{}},
{"data":{"name":"brackets"},"transform":[{"filter":"datum.p=='P4'"}],"mark":{"type":"rule","color":"#1414f0","strokeWidth":3},"encoding":{"x2":{"field":"t2"}}},
{"data":{"name":"brackets"},"transform":[{"filter":"datum.p=='P4'"}],"mark":{"type":"rule","color":"#1414f0","strokeWidth":4.5},"encoding":{"x":{"field":"t2","type":"quantitative"},"y2":{"field":"v2"}}},
{"data":{"name":"p4"},"mark":{"type":"line","color":"#000000","strokeWidth":4.6,"interpolate":"monotone"}},
{"data":{"name":"labels"},"transform":[{"filter":"datum.p=='P4' && datum.font=='n'"}],"mark":{"type":"text","align":"left","baseline":"alphabetic","font":"Noto Sans","color":"#111111"},"encoding":{"text":{"field":"text"},"size":{"field":"kind","type":"nominal","legend":null,"scale":{"type":"ordinal","domain":["title","stat","key","big","ms","star","cb"],"range":[35.7,35,25.2,50,23,29,20]}}}},
{"data":{"name":"labels"},"transform":[{"filter":"datum.p=='P4' && datum.font=='h'"}],"mark":{"type":"text","align":"left","baseline":"alphabetic","font":"Liberation Sans","color":"#111111"},"encoding":{"text":{"field":"text"},"size":{"field":"kind","type":"nominal","legend":null,"scale":{"type":"ordinal","domain":["title","stat","key","big","ms","star","cb"],"range":[35.7,35,25.2,50,23,29,20]}}}}
]}
]},
{"width":2070,"height":23,"data":{"name":"one"},"mark":{"type":"rule","opacity":0},"encoding":{}},
{"width":2070,"height":6,"view":{"fill":"#5c5c5c"},"data":{"name":"one"},"mark":{"type":"rule","opacity":0},"encoding":{}},
{"width":2070,"height":10,"view":{"fill":"#7e7e7e"},"data":{"name":"one"},"mark":{"type":"rule","opacity":0},"encoding":{}},
{"width":2070,"height":6,"view":{"fill":"#5c5c5c"},"data":{"name":"one"},"mark":{"type":"rule","opacity":0},"encoding":{}},
{"width":2070,"height":20,"data":{"name":"one"},"mark":{"type":"rule","opacity":0},"encoding":{}},
{"spacing":0,"bounds":"flush","hconcat":[
{"width":39,"height":421,"data":{"name":"one"},"mark":{"type":"rule","opacity":0},"encoding":{}},
{"width":426,"height":421,"encoding":{"x":{"field":"t","type":"quantitative","title":null,"scale":{"domain":[-100,400]},"axis":{"values":[0,200,400]}},"y":{"field":"v","type":"quantitative","title":null,"scale":{"domain":[3,-3]},"axis":{"values":[-3,-2,-1,0,1,2],"labelExpr":"datum.value<0 ? '–'+(-datum.value) : ''+datum.value"}}},
"layer":[
{"data":{"name":"hz"},"mark":{"type":"rule","color":"#444444","strokeWidth":1.5},"encoding":{"x2":{"field":"t2"}}},
{"data":{"name":"vt"},"mark":{"type":"rule","color":"#444444","strokeWidth":2},"encoding":{"y2":{"field":"v2"}}},
{"data":{"name":"p5"},"mark":{"type":"line","color":"#000000","strokeWidth":3.4,"interpolate":"monotone"},"encoding":{"strokeDash":{"field":"s","scale":{"domain":["Standard","Deviant"],"range":[[1,0],[12,7]]},"legend":null}}},
{"data":{"name":"labels"},"transform":[{"filter":"datum.p=='P5' && datum.font=='n'"}],"mark":{"type":"text","align":"left","baseline":"alphabetic","font":"Noto Sans","color":"#111111"},"encoding":{"text":{"field":"text"},"size":{"field":"kind","type":"nominal","legend":null,"scale":{"type":"ordinal","domain":["title","stat","key","big","ms","star","cb"],"range":[35.7,35,25.2,50,23,29,20]}}}},
{"data":{"name":"labels"},"transform":[{"filter":"datum.p=='P5' && datum.font=='h'"}],"mark":{"type":"text","align":"left","baseline":"alphabetic","font":"Liberation Sans","color":"#111111"},"encoding":{"text":{"field":"text"},"size":{"field":"kind","type":"nominal","legend":null,"scale":{"type":"ordinal","domain":["title","stat","key","big","ms","star","cb"],"range":[35.7,35,25.2,50,23,29,20]}}}}
]},
{"width":57,"height":421,"data":{"name":"one"},"mark":{"type":"rule","opacity":0},"encoding":{}},
{"width":426,"height":421,"encoding":{"x":{"field":"t","type":"quantitative","title":null,"scale":{"domain":[-100,400]},"axis":{"values":[0,200,400]}},"y":{"field":"v","type":"quantitative","title":null,"scale":{"domain":[3,-3]},"axis":{"values":[-3,-2,-1,0,1,2],"labels":false}}},
"layer":[
{"data":{"name":"hz"},"mark":{"type":"rule","color":"#444444","strokeWidth":1.5},"encoding":{"x2":{"field":"t2"}}},
{"data":{"name":"vt"},"mark":{"type":"rule","color":"#111111","strokeWidth":1.5},"encoding":{"y2":{"field":"v2"}}},
{"data":{"name":"halo"},"mark":{"type":"point","filled":true,"opacity":1,"color":"#eaf2fc","size":26244},"encoding":{}},
{"data":{"name":"t3"},"mark":{"type":"point","filled":true,"opacity":1,"stroke":"#444444","strokeWidth":0.6,"strokeOpacity":0.5},"encoding":{"fill":{"field":"level","type":"quantitative","legend":null,"scale":{"interpolate":"rgb","domain":[-1,-0.8,-0.5,-0.25,0,0.4,0.65,0.85,1],"range":["#00008f","#0000ff","#0088ff","#00ffff","#60ff80","#ffff00","#ff8000","#ff0000","#a00000"]}},"size":{"field":"reach","type":"quantitative","legend":null,"scale":{"type":"pow","exponent":2,"domain":[0,100],"range":[0,29002]}}}},
{"data":{"name":"ears"},"mark":{"type":"rule","color":"#111111","strokeWidth":7},"encoding":{"y2":{"field":"v2"}}},
{"data":{"name":"ring"},"mark":{"type":"point","filled":false,"opacity":1,"color":"#111111","strokeWidth":5,"size":12544},"encoding":{}},
{"data":{"name":"nose"},"mark":{"type":"point","shape":"triangle-up","filled":false,"opacity":1,"color":"#111111","strokeWidth":3,"size":200},"encoding":{}},
{"data":{"name":"elec"},"mark":{"type":"point","filled":true,"opacity":1,"color":"#000000","size":50},"encoding":{}},
{"data":{"name":"brackets"},"transform":[{"filter":"datum.p=='P6'"}],"mark":{"type":"rule","color":"#1414f0","strokeWidth":3},"encoding":{"x2":{"field":"t2"}}},
{"data":{"name":"brackets"},"transform":[{"filter":"datum.p=='P6'"}],"mark":{"type":"rule","color":"#1414f0","strokeWidth":4.5},"encoding":{"x":{"field":"t2","type":"quantitative"},"y2":{"field":"v2"}}},
{"data":{"name":"p6"},"mark":{"type":"line","color":"#000000","strokeWidth":4.6,"interpolate":"monotone"}},
{"data":{"name":"labels"},"transform":[{"filter":"datum.p=='P6' && datum.font=='n'"}],"mark":{"type":"text","align":"left","baseline":"alphabetic","font":"Noto Sans","color":"#111111"},"encoding":{"text":{"field":"text"},"size":{"field":"kind","type":"nominal","legend":null,"scale":{"type":"ordinal","domain":["title","stat","key","big","ms","star","cb"],"range":[35.7,35,25.2,50,23,29,20]}}}},
{"data":{"name":"labels"},"transform":[{"filter":"datum.p=='P6' && datum.font=='h'"}],"mark":{"type":"text","align":"left","baseline":"alphabetic","font":"Liberation Sans","color":"#111111"},"encoding":{"text":{"field":"text"},"size":{"field":"kind","type":"nominal","legend":null,"scale":{"type":"ordinal","domain":["title","stat","key","big","ms","star","cb"],"range":[35.7,35,25.2,50,23,29,20]}}}}
]},
{"width":217,"height":421,"data":{"name":"one"},"mark":{"type":"rule","opacity":0},"encoding":{}},
{"width":426,"height":421,"encoding":{"x":{"field":"t","type":"quantitative","title":null,"scale":{"domain":[-100,400]},"axis":{"values":[0,200,400]}},"y":{"field":"v","type":"quantitative","title":null,"scale":{"domain":[3,-3]},"axis":{"values":[-3,-2,-1,0,1,2],"labelExpr":"datum.value<0 ? '–'+(-datum.value) : ''+datum.value"}}},
"layer":[
{"data":{"name":"hz"},"mark":{"type":"rule","color":"#444444","strokeWidth":1.5},"encoding":{"x2":{"field":"t2"}}},
{"data":{"name":"vt"},"mark":{"type":"rule","color":"#444444","strokeWidth":2},"encoding":{"y2":{"field":"v2"}}},
{"data":{"name":"p7"},"mark":{"type":"line","color":"#000000","strokeWidth":3.4,"interpolate":"monotone"},"encoding":{"strokeDash":{"field":"s","scale":{"domain":["Standard","Deviant"],"range":[[1,0],[12,7]]},"legend":null}}},
{"data":{"name":"labels"},"transform":[{"filter":"datum.p=='P7' && datum.font=='n'"}],"mark":{"type":"text","align":"left","baseline":"alphabetic","font":"Noto Sans","color":"#111111"},"encoding":{"text":{"field":"text"},"size":{"field":"kind","type":"nominal","legend":null,"scale":{"type":"ordinal","domain":["title","stat","key","big","ms","star","cb"],"range":[35.7,35,25.2,50,23,29,20]}}}},
{"data":{"name":"labels"},"transform":[{"filter":"datum.p=='P7' && datum.font=='h'"}],"mark":{"type":"text","align":"left","baseline":"alphabetic","font":"Liberation Sans","color":"#111111"},"encoding":{"text":{"field":"text"},"size":{"field":"kind","type":"nominal","legend":null,"scale":{"type":"ordinal","domain":["title","stat","key","big","ms","star","cb"],"range":[35.7,35,25.2,50,23,29,20]}}}}
]},
{"width":58,"height":421,"data":{"name":"one"},"mark":{"type":"rule","opacity":0},"encoding":{}},
{"width":426,"height":421,"encoding":{"x":{"field":"t","type":"quantitative","title":null,"scale":{"domain":[-100,400]},"axis":{"values":[0,200,400]}},"y":{"field":"v","type":"quantitative","title":null,"scale":{"domain":[3,-3]},"axis":{"values":[-3,-2,-1,0,1,2],"labels":false}}},
"layer":[
{"data":{"name":"hz"},"mark":{"type":"rule","color":"#444444","strokeWidth":1.5},"encoding":{"x2":{"field":"t2"}}},
{"data":{"name":"vt"},"mark":{"type":"rule","color":"#111111","strokeWidth":1.5},"encoding":{"y2":{"field":"v2"}}},
{"data":{"name":"halo"},"mark":{"type":"point","filled":true,"opacity":1,"color":"#eaf2fc","size":26244},"encoding":{}},
{"data":{"name":"t4"},"mark":{"type":"point","filled":true,"opacity":1,"stroke":"#444444","strokeWidth":0.6,"strokeOpacity":0.5},"encoding":{"fill":{"field":"level","type":"quantitative","legend":null,"scale":{"interpolate":"rgb","domain":[-1,-0.8,-0.5,-0.25,0,0.4,0.65,0.85,1],"range":["#00008f","#0000ff","#0088ff","#00ffff","#60ff80","#ffff00","#ff8000","#ff0000","#a00000"]}},"size":{"field":"reach","type":"quantitative","legend":null,"scale":{"type":"pow","exponent":2,"domain":[0,100],"range":[0,29002]}}}},
{"data":{"name":"ears"},"mark":{"type":"rule","color":"#111111","strokeWidth":7},"encoding":{"y2":{"field":"v2"}}},
{"data":{"name":"ring"},"mark":{"type":"point","filled":false,"opacity":1,"color":"#111111","strokeWidth":5,"size":12544},"encoding":{}},
{"data":{"name":"nose"},"mark":{"type":"point","shape":"triangle-up","filled":false,"opacity":1,"color":"#111111","strokeWidth":3,"size":200},"encoding":{}},
{"data":{"name":"elec"},"mark":{"type":"point","filled":true,"opacity":1,"color":"#000000","size":50},"encoding":{}},
{"data":{"name":"brackets"},"transform":[{"filter":"datum.p=='P8'"}],"mark":{"type":"rule","color":"#1414f0","strokeWidth":3},"encoding":{"x2":{"field":"t2"}}},
{"data":{"name":"brackets"},"transform":[{"filter":"datum.p=='P8'"}],"mark":{"type":"rule","color":"#1414f0","strokeWidth":4.5},"encoding":{"x":{"field":"t2","type":"quantitative"},"y2":{"field":"v2"}}},
{"data":{"name":"p8"},"mark":{"type":"line","color":"#000000","strokeWidth":4.6,"interpolate":"monotone"}},
{"data":{"name":"labels"},"transform":[{"filter":"datum.p=='P8' && datum.font=='n'"}],"mark":{"type":"text","align":"left","baseline":"alphabetic","font":"Noto Sans","color":"#111111"},"encoding":{"text":{"field":"text"},"size":{"field":"kind","type":"nominal","legend":null,"scale":{"type":"ordinal","domain":["title","stat","key","big","ms","star","cb"],"range":[35.7,35,25.2,50,23,29,20]}}}},
{"data":{"name":"labels"},"transform":[{"filter":"datum.p=='P8' && datum.font=='h'"}],"mark":{"type":"text","align":"left","baseline":"alphabetic","font":"Liberation Sans","color":"#111111"},"encoding":{"text":{"field":"text"},"size":{"field":"kind","type":"nominal","legend":null,"scale":{"type":"ordinal","domain":["title","stat","key","big","ms","star","cb"],"range":[35.7,35,25.2,50,23,29,20]}}}}
]}
]},
{"width":2070,"height":4,"data":{"name":"one"},"mark":{"type":"rule","opacity":0},"encoding":{}},
{"width":2070,"height":4,"view":{"fill":"#d8d8d8"},"data":{"name":"one"},"mark":{"type":"rule","opacity":0},"encoding":{}},
{"width":2070,"height":4,"view":{"fill":"#aaaaaa"},"data":{"name":"one"},"mark":{"type":"rule","opacity":0},"encoding":{}},
{"width":2070,"height":5,"view":{"fill":"#666666"},"data":{"name":"one"},"mark":{"type":"rule","opacity":0},"encoding":{}},
{"width":2070,"height":6,"view":{"fill":"#888888"},"data":{"name":"one"},"mark":{"type":"rule","opacity":0},"encoding":{}}
]}
]}
]}
